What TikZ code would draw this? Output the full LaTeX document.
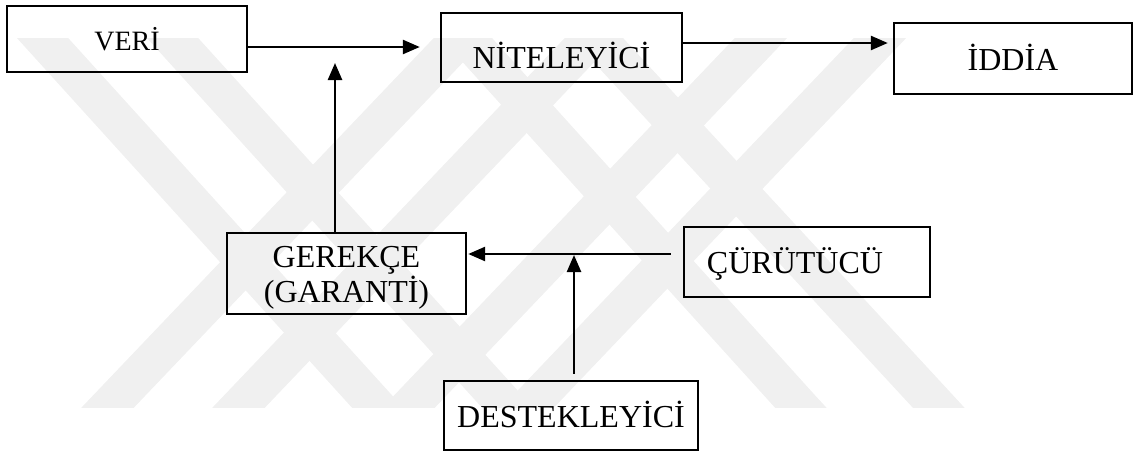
\documentclass[tikz,border=0pt]{standalone}
\usepackage{fontspec}
\setmainfont{Liberation Serif}
\usetikzlibrary{arrows.meta,calc}
\begin{document}
\begin{tikzpicture}[x=1pt,y=-1pt,
  box/.style={draw=black,line width=2.4pt,inner sep=0pt,anchor=center,font=\fontsize{32}{35}\selectfont},
  arr/.style={line width=2.5pt,-{Triangle[length=17pt,width=14pt]}},
  wm/.style={draw=black!6,line width=38pt,line cap=butt}]
\useasboundingbox (0,0) rectangle (1136,453);
% watermark
\begin{scope}
\clip (0,38) rectangle (1136,407);
% left X
\draw[wm] (43,38) ++(-34,-37) -- (377,407) -- ++(34,37);
\draw[wm] (173,38) ++(-34,-37) -- (507,407) -- ++(34,37);
\draw[wm] (108,407) ++(-35,37) -- (460,38) -- ++(35,-37);
\draw[wm] (239,407) ++(-35,37) -- (591,38) -- ++(35,-37);
% right X
\draw[wm] (467,38) ++(-34,-37) -- (800,407) -- ++(34,37);
\draw[wm] (597,38) ++(-34,-37) -- (938,407) -- ++(34,37);
\draw[wm] (409,407) ++(-35,37) -- (761,38) -- ++(35,-37);
\draw[wm] (528,407) ++(-35,37) -- (880,38) -- ++(35,-37);
\end{scope}
% boxes
\node[box,minimum width=240pt,minimum height=66pt,font=\fontsize{28}{32}\selectfont,text height=22pt,text depth=0pt] (veri) at (127,39) {VERİ};
\node[box,minimum width=241pt,minimum height=69pt,text height=41pt,text depth=0pt] (nit) at (561.5,47.5) {NİTELEYİCİ};
\node[box,minimum width=238pt,minimum height=71pt,text height=23pt,text depth=0pt] (iddia) at (1013,58.5) {İDDİA};
\node[box,minimum width=239pt,minimum height=81pt,align=center,text height=60pt,text depth=3pt] (ger) at (346.5,273.5) {GEREKÇE\\(GARANTİ)};
\node[box,minimum width=246pt,minimum height=70pt,text height=22pt,text depth=0pt] (cur) at (807,262) {ÇÜRÜTÜCÜ\hspace*{24pt}};
\node[box,minimum width=254pt,minimum height=69pt,text height=23pt,text depth=0pt] (dest) at (571,415.5) {DESTEKLEYİCİ};
% connectors
\coordinate (a3t) at (335,63);
\draw[arr,shorten >=20pt] ([yshift=-8pt]veri.east) -- ([yshift=-8pt]veri.east -| nit.west);
\draw[arr,shorten >=5pt] ([yshift=4.5pt]nit.east) -- ([yshift=4.5pt]nit.east -| iddia.west);
\draw[arr] (ger.north -| a3t) -- (a3t);
\draw[arr,shorten >=13pt] ([xshift=-12pt,yshift=8pt]cur.west) -- ([xshift=-12pt,yshift=8pt]cur.west -| ger.east);
\draw[arr] ([xshift=3pt,yshift=6pt]dest.north) -- ([xshift=3pt,yshift=7pt]dest.north |- cur.west);
\end{tikzpicture}
\end{document}
